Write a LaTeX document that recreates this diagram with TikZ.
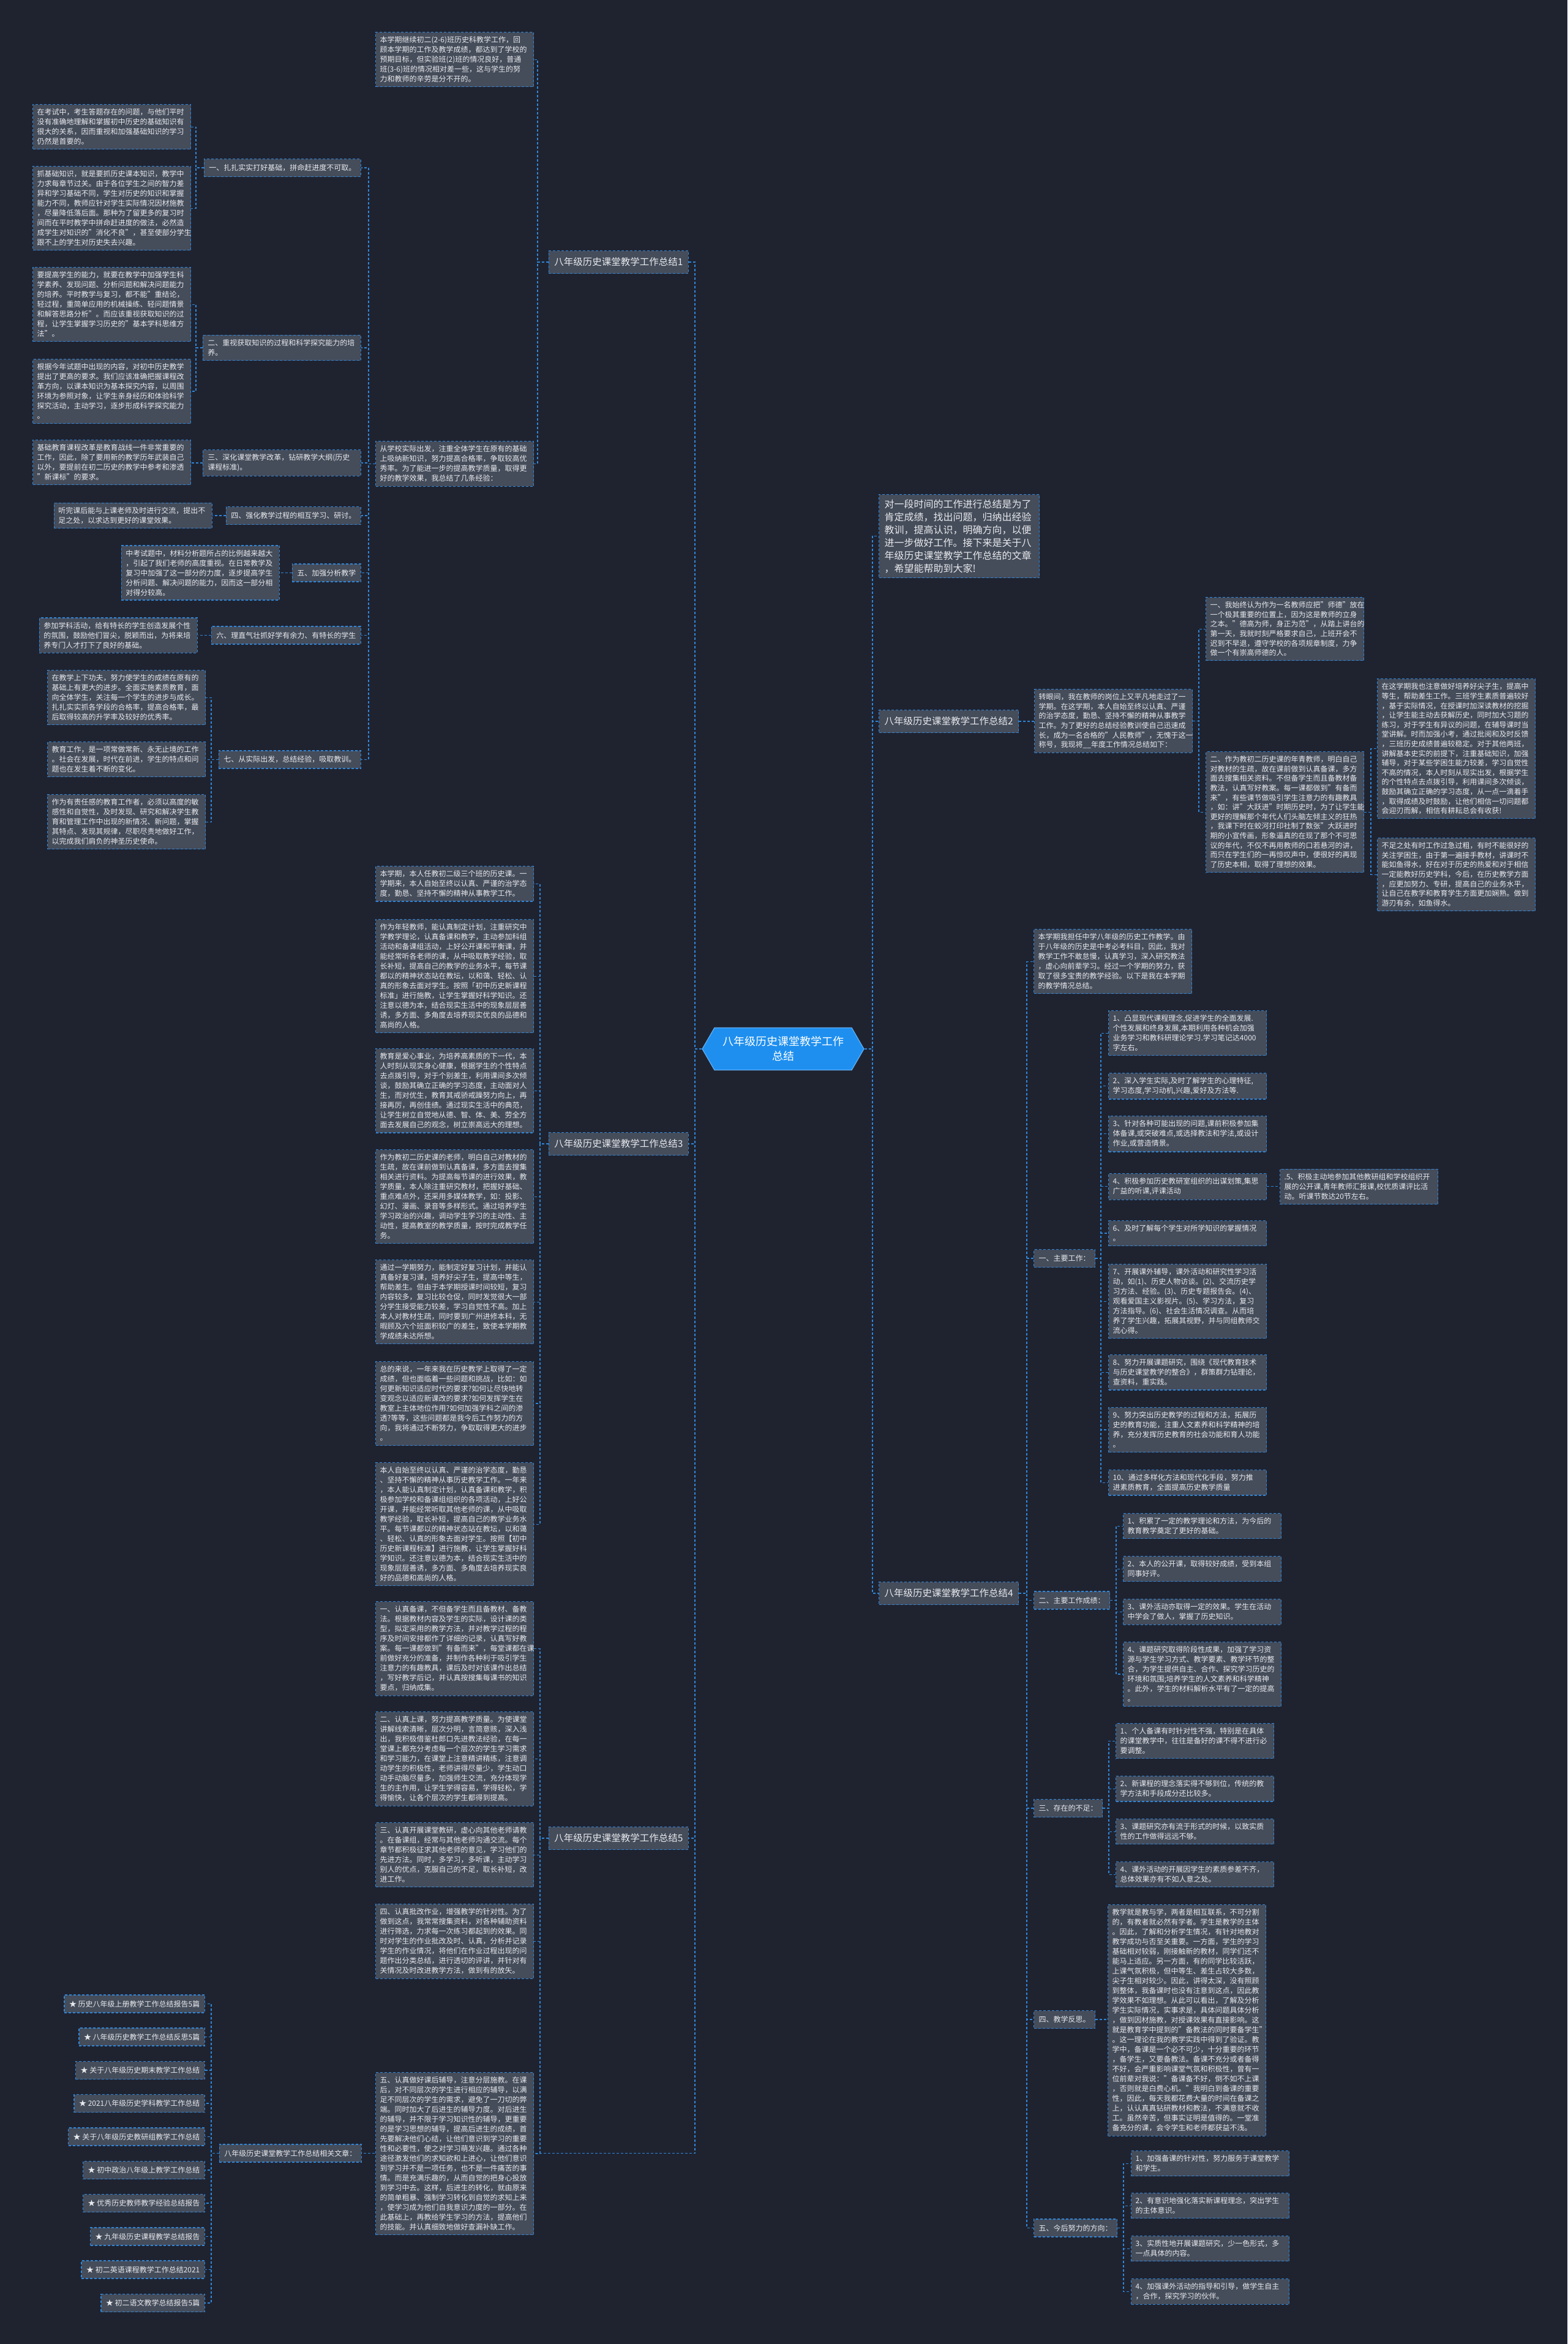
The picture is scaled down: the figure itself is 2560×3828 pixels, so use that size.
\documentclass[tikz,border=0pt]{standalone}
\usepackage{fontspec}
\setmainfont{Noto Sans CJK SC}
\usetikzlibrary{shapes.symbols}
\definecolor{bgc}{HTML}{1F2330}
\definecolor{bf}{HTML}{454C5A}
\definecolor{lk}{HTML}{2F86D8}
\definecolor{tx}{HTML}{E8EAED}
\definecolor{rootc}{HTML}{1E8FEF}
\pgfdeclarelayer{back}
\pgfsetlayers{back,main}
\begin{document}
\begin{tikzpicture}[x=1pt,y=-1pt,
  box/.style={draw=lk, dash pattern=on 4pt off 3pt, line width=1.2pt, fill=bf, text=tx, font=\fontsize{12pt}{16pt}\selectfont, inner xsep=7pt, inner ysep=7pt},
  para/.style={box, text width=244pt, align=left, anchor=north west},
  lbl/.style={box, minimum height=29pt, inner xsep=8pt},
  blabel/.style={box, font=\fontsize{15.5pt}{19pt}\selectfont, minimum height=37pt, inner xsep=9pt},
  conn/.style={draw=lk, dash pattern=on 4pt off 3pt, line width=1.2pt},
  rootbox/.style={signal, signal to=west and east, signal pointer angle=120, fill=rootc, draw=rootc!70!white, line width=1.2pt, text=white, font=\fontsize{18pt}{24pt}\selectfont, align=center, minimum width=264pt, minimum height=69pt, inner xsep=4pt}
]
\useasboundingbox (0,0) rectangle (2560,3828);

% ---------- root ----------
\node[rootbox] (root) at (1279,1713) {八年级历史课堂教学工作\\总结};

% ---------- branch labels ----------
\node[blabel, anchor=east] (b1) at (1125,428) {八年级历史课堂教学工作总结1};
\node[blabel, anchor=east] (b3) at (1125,1868) {八年级历史课堂教学工作总结3};
\node[blabel, anchor=east] (b5) at (1125,3002) {八年级历史课堂教学工作总结5};
\node[lbl, anchor=east] (rel) at (591,3516.5) {八年级历史课堂教学工作总结相关文章：};
\node[blabel, anchor=west] (b2) at (1435,1178) {八年级历史课堂教学工作总结2};
\node[blabel, anchor=west] (b4) at (1435,2602) {八年级历史课堂教学工作总结4};

% ---------- branch 1 ----------
\node[para] (n0) at (613,52) {本学期继续初二(2-6)班历史科教学工作，回\\顾本学期的工作及教学成绩，都达到了学校的\\预期目标，但实验班(2)班的情况良好，普通\\班(3-6)班的情况相对差一些，这与学生的努\\力和教师的辛劳是分不开的。};
\node[para] (n1) at (613,720) {从学校实际出发，注重全体学生在原有的基础\\上吸纳新知识，努力提高合格率，争取较高优\\秀率。为了能进一步的提高教学质量，取得更\\好的教学效果，我总结了几条经验：};

\node[lbl, anchor=east] (s1) at (590,274) {一、扎扎实实打好基础，拼命赶进度不可取。};
\node[lbl, anchor=east, text width=242pt, align=left] (s2) at (590,568) {二、重视获取知识的过程和科学探究能力的培\\养。};
\node[lbl, anchor=east, text width=242pt, align=left] (s3) at (590,756) {三、深化课堂教学改革，钻研教学大纲(历史\\课程标准)。};
\node[lbl, anchor=east] (s4) at (590,842) {四、强化教学过程的相互学习、研讨。};
\node[lbl, anchor=east] (s5) at (590,935.5) {五、加强分析教学};
\node[lbl, anchor=east] (s6) at (590,1037.5) {六、理直气壮抓好学有余力、有特长的学生};
\node[lbl, anchor=east] (s7) at (590,1240.5) {七、从实际出发，总结经验，吸取教训。};

\node[para] (l1) at (53,170) {在考试中，考生答题存在的问题，与他们平时\\没有准确地理解和掌握初中历史的基础知识有\\很大的关系，因而重视和加强基础知识的学习\\仍然是首要的。};
\node[para] (l2) at (53,271) {抓基础知识，就是要抓历史课本知识，教学中\\力求每章节过关。由于各位学生之间的智力差\\异和学习基础不同，学生对历史的知识和掌握\\能力不同，教师应针对学生实际情况因材施教\\，尽量降低落后面。那种为了留更多的复习时\\间而在平时教学中拼命赶进度的做法，必然造\\成学生对知识的"消化不良"，甚至使部分学生\\跟不上的学生对历史失去兴趣。};
\node[para] (l3) at (53,436) {要提高学生的能力，就要在教学中加强学生科\\学素养、发现问题、分析问题和解决问题能力\\的培养。平时教学与复习，都不能"重结论，\\轻过程，重简单应用的机械操练、轻问题情景\\和解答思路分析"。而应该重视获取知识的过\\程，让学生掌握学习历史的"基本学科思维方\\法"。};
\node[para] (l4) at (53,586) {根据今年试题中出现的内容，对初中历史教学\\提出了更高的要求。我们应该准确把握课程改\\革方向，以课本知识为基本探究内容，以周围\\环境为参照对象，让学生亲身经历和体验科学\\探究活动，主动学习，逐步形成科学探究能力\\。};
\node[para] (l5) at (53,718) {基础教育课程改革是教育战线一件非常重要的\\工作，因此，除了要用新的教学历年武装自己\\以外，要提前在初二历史的教学中参考和渗透\\"新课标"的要求。};
\node[para, anchor=east] (l6) at (347,842) {听完课后能与上课老师及时进行交流，提出不\\足之处，以求达到更好的课堂效果。};
\node[para, anchor=east] (l7) at (457,935.5) {中考试题中，材料分析题所占的比例越来越大\\，引起了我们老师的高度重视。在日常教学及\\复习中加强了这一部分的力度，逐步提高学生\\分析问题、解决问题的能力，因而这一部分相\\对得分较高。};
\node[para, anchor=east] (l8) at (323,1037.5) {参加学科活动，给有特长的学生创造发展个性\\的氛围，鼓励他们冒尖，脱颖而出，为将来培\\养专门人才打下了良好的基础。};
\node[para] (l9) at (77,1094) {在教学上下功夫，努力使学生的成绩在原有的\\基础上有更大的进步。全面实施素质教育，面\\向全体学生，关注每一个学生的进步与成长。\\扎扎实实抓各学段的合格率，提高合格率，最\\后取得较高的升学率及较好的优秀率。};
\node[para] (l10) at (77,1211) {教育工作，是一项常做常新、永无止境的工作\\。社会在发展，时代在前进，学生的特点和问\\题也在发生着不断的变化。};
\node[para] (l11) at (77,1297) {作为有责任感的教育工作者，必须以高度的敏\\感性和自觉性，及时发现、研究和解决学生教\\育和管理工作中出现的新情况、新问题，掌握\\其特点、发现其规律，尽职尽责地做好工作，\\以完成我们肩负的神圣历史使命。};

% ---------- branch 3 ----------
\node[para] (t1) at (613,1414) {本学期，本人任教初二级三个班的历史课。一\\学期来，本人自始至终以认真、严谨的治学态\\度，勤恳、坚持不懈的精神从事教学工作。};
\node[para] (t2) at (613,1501) {作为年轻教师，能认真制定计划，注重研究中\\学教学理论，认真备课和教学，主动参加科组\\活动和备课组活动，上好公开课和平衡课，并\\能经常听各老师的课，从中吸取教学经验，取\\长补短，提高自己的教学的业务水平，每节课\\都以的精神状态站在教坛，以和蔼、轻松、认\\真的形象去面对学生。按照「初中历史新课程\\标准」进行施教，让学生掌握好科学知识。还\\注意以德为本，结合现实生活中的现象层层善\\诱，多方面、多角度去培养现实优良的品德和\\高尚的人格。};
\node[para] (t3) at (613,1712) {教育是爱心事业，为培养高素质的下一代，本\\人时刻从现实身心健康，根据学生的个性特点\\去点拨引导，对于个别差生，利用课间多次倾\\谈，鼓励其确立正确的学习态度，主动面对人\\生，而对优生，教育其戒骄戒躁努力向上，再\\接再厉，再创佳绩。通过现实生活中的典范，\\让学生树立自觉地从德、智、体、美、劳全方\\面去发展自己的观念，树立崇高远大的理想。};
\node[para] (t4) at (613,1877) {作为教初二历史课的老师，明白自己对教材的\\生疏，故在课前做到认真备课，多方面去搜集\\相关进行资料。为提高每节课的进行效果，教\\学质量，本人除注重研究教材，把握好基础、\\重点难点外，还采用多媒体教学，如：投影、\\幻灯、漫画、录音等多样形式。通过培养学生\\学习政治的兴趣，调动学生学习的主动性、主\\动性，提高教室的教学质量，按时完成教学任\\务。};
\node[para] (t5) at (613,2057) {通过一学期努力，能制定好复习计划，并能认\\真备好复习课，培养好尖子生，提高中等生，\\帮助差生。但由于本学期授课时间较短，复习\\内容较多，复习比较仓促，同时发觉很大一部\\分学生接受能力较差，学习自觉性不高。加上\\本人对教材生疏，同时要到广州进修本科，无\\暇顾及六个班面积较广的差生，致使本学期教\\学成绩未达所想。};
\node[para] (t6) at (613,2223) {总的来说，一年来我在历史教学上取得了一定\\成绩，但也面临着一些问题和挑战，比如：如\\何更新知识适应时代的要求?如何让尽快地转\\变观念以适应新课改的要求?如何发挥学生在\\教室上主体地位作用?如何加强学科之间的渗\\透?等等，这些问题都是我今后工作努力的方\\向，我将通过不断努力，争取取得更大的进步\\。};
\node[para] (t7) at (613,2388) {本人自始至终以认真、严谨的治学态度，勤恳\\、坚持不懈的精神从事历史教学工作。一年来\\，本人能认真制定计划，认真备课和教学，积\\极参加学校和备课组组织的各项活动，上好公\\开课，并能经常听取其他老师的课，从中吸取\\教学经验，取长补短，提高自己的教学业务水\\平。每节课都以的精神状态站在教坛，以和蔼\\、轻松、认真的形象去面对学生。按照【初中\\历史新课程标准】进行施教，让学生掌握好科\\学知识。还注意以德为本，结合现实生活中的\\现象层层善诱，多方面、多角度去培养现实良\\好的品德和高尚的人格。};

% ---------- branch 5 ----------
\node[para] (u1) at (613,2615) {一、认真备课，不但备学生而且备教材、备教\\法。根据教材内容及学生的实际，设计课的类\\型，拟定采用的教学方法，并对教学过程的程\\序及时间安排都作了详细的记录，认真写好教\\案。每一课都做到"有备而来"，每堂课都在课\\前做好充分的准备，并制作各种利于吸引学生\\注意力的有趣教具，课后及时对该课作出总结\\，写好教学后记，并认真按搜集每课书的知识\\要点，归纳成集。};
\node[para] (u2) at (613,2795) {二、认真上课，努力提高教学质量。为使课堂\\讲解线索清晰，层次分明，言简意赅，深入浅\\出，我积极借鉴杜郎口先进教法经验，在每一\\堂课上都充分考虑每一个层次的学生学习需求\\和学习能力，在课堂上注意精讲精练，注意调\\动学生的积极性，老师讲得尽量少，学生动口\\动手动脑尽量多，加强师生交流，充分体现学\\生的主作用，让学生学得容易，学得轻松，学\\得愉快，让各个层次的学生都得到提高。};
\node[para] (u3) at (613,2976) {三、认真开展课堂教研，虚心向其他老师请教\\。在备课组，经常与其他老师沟通交流。每个\\章节都积极征求其他老师的意见，学习他们的\\先进方法。同时，多学习，多听课，主动学习\\别人的优点，克服自己的不足，取长补短，改\\进工作。};
\node[para] (u4) at (613,3109) {四、认真批改作业，增强教学的针对性。为了\\做到这点，我常常搜集资料，对各种辅助资料\\进行筛选，力求每一次练习都起到的效果。同\\时对学生的作业批改及时、认真，分析并记录\\学生的作业情况，将他们在作业过程出现的问\\题作出分类总结，进行透切的评讲，并针对有\\关情况及时改进教学方法，做到有的放矢。};
\node[para] (u5) at (613,3384) {五、认真做好课后辅导，注意分层施教。在课\\后，对不同层次的学生进行相应的辅导，以满\\足不同层次的学生的需求，避免了一刀切的弊\\端。同时加大了后进生的辅导力度。对后进生\\的辅导，并不限于学习知识性的辅导，更重要\\的是学习思想的辅导，提高后进生的成绩，首\\先要解决他们心结，让他们意识到学习的重要\\性和必要性，使之对学习萌发兴趣。通过各种\\途径激发他们的求知欲和上进心，让他们意识\\到学习并不是一项任务，也不是一件痛苦的事\\情。而是充满乐趣的，从而自觉的把身心投放\\到学习中去。这样，后进生的转化，就由原来\\的简单粗暴、强制学习转化到自觉的求知上来\\，使学习成为他们自我意识力度的一部分。在\\此基础上，再教给学生学习的方法，提高他们\\的技能。并认真细致地做好查漏补缺工作。};

% ---------- related articles ----------
\node[lbl, anchor=east] (r1) at (335,3272.5) {★ 历史八年级上册教学工作总结报告5篇};
\node[lbl, anchor=east] (r2) at (335,3326.5) {★ 八年级历史教学工作总结反思5篇};
\node[lbl, anchor=east] (r3) at (335,3381) {★ 关于八年级历史期末教学工作总结};
\node[lbl, anchor=east] (r4) at (335,3435) {★ 2021八年级历史学科教学工作总结};
\node[lbl, anchor=east] (r5) at (335,3489.5) {★ 关于八年级历史教研组教学工作总结};
\node[lbl, anchor=east] (r6) at (335,3544) {★ 初中政治八年级上教学工作总结};
\node[lbl, anchor=east] (r7) at (335,3598) {★ 优秀历史教师教学经验总结报告};
\node[lbl, anchor=east] (r8) at (335,3652.5) {★ 九年级历史课程教学总结报告};
\node[lbl, anchor=east] (r9) at (335,3706.5) {★ 初二英语课程教学工作总结2021};
\node[lbl, anchor=east] (r10) at (335,3761) {★ 初二语文教学总结报告5篇};

% ---------- right: intro + branch 2 ----------
\node[para, font=\fontsize{16pt}{21pt}\selectfont, inner xsep=9pt, inner ysep=8pt] (intro) at (1435,807) {对一段时间的工作进行总结是为了\\肯定成绩，找出问题，归纳出经验\\教训，提高认识，明确方向，以便\\进一步做好工作。接下来是关于八\\年级历史课堂教学工作总结的文章\\，希望能帮助到大家!};
\node[para, font=\fontsize{12pt}{15.6pt}\selectfont] (zy) at (1689,1125) {转眼间，我在教师的岗位上又平凡地走过了一\\学期。在这学期，本人自始至终以认真、严谨\\的治学态度，勤恳、坚持不懈的精神从事教学\\工作。为了更好的总结经验教训使自己迅速成\\长，成为一名合格的"人民教师"，无愧于这一\\称号，我现将\_\_年度工作情况总结如下：};
\node[para, font=\fontsize{12pt}{15.6pt}\selectfont] (q1) at (1969,975) {一、我始终认为作为一名教师应把"师德"放在\\一个极其重要的位置上，因为这是教师的立身\\之本。"德高为师，身正为范"，从踏上讲台的\\第一天，我就时刻严格要求自己，上班开会不\\迟到不早退，遵守学校的各项规章制度，力争\\做一个有崇高师德的人。};
\node[para, font=\fontsize{12pt}{15.6pt}\selectfont] (q2) at (1969,1227) {二、作为教初二历史课的年青教师，明白自己\\对教材的生疏，故在课前做到认真备课，多方\\面去搜集相关资料。不但备学生而且备教材备\\教法，认真写好教案。每一课都做到"有备而\\来"，有些课节做吸引学生注意力的有趣教具\\，如：讲"大跃进"时期历史时，为了让学生能\\更好的理解那个年代人们头脑左倾主义的狂热\\，我课下时在蛟河打印社制了数张"大跃进时\\期的小宣传画，形象逼真的在现了那个不可思\\议的年代，不仅不再用教师的口若悬河的讲，\\而只在学生们的一再惊叹声中，便很好的再现\\了历史本相，取得了理想的效果。};
\node[para, font=\fontsize{12pt}{15.6pt}\selectfont] (q3) at (2249,1108) {在这学期我也注意做好培养好尖子生，提高中\\等生，帮助差生工作。三班学生素质普遍较好\\，基于实际情况，在授课时加深读教材的挖掘\\，让学生能主动去获解历史，同时加大习题的\\练习，对于学生有异议的问题，在辅导课时当\\堂讲解。时而加强小考，通过批阅和及时反馈\\，三班历史成绩普遍较稳定。对于其他两班，\\讲解基本史实的前提下，注重基础知识，加强\\辅导，对于某些学困生能力较差，学习自觉性\\不高的情况，本人时刻从现实出发，根据学生\\的个性特点去点拨引导，利用课间多次倾谈，\\鼓励其确立正确的学习态度，从一点一滴着手\\，取得成绩及时鼓励，让他们相信一切问题都\\会迎刃而解，相信有耕耘总会有收获!};
\node[para, font=\fontsize{12pt}{15.6pt}\selectfont] (q4) at (2249,1368) {不足之处有时工作过急过粗，有时不能很好的\\关注学困生，由于第一遍接手教材，讲课时不\\能如鱼得水，好在对于历史的热爱和对于相信\\一定能教好历史学科，今后，在历史教学方面\\，应更加努力、专研，提高自己的业务水平，\\让自己在教学和教育学生方面更加娴熟。做到\\游刃有余，如鱼得水。};

% ---------- branch 4 ----------
\node[para] (i4) at (1688,1517) {本学期我担任中学八年级的历史工作教学。由\\于八年级的历史是中考必考科目，因此，我对\\教学工作不敢怠慢，认真学习，深入研究教法\\，虚心向前辈学习。经过一个学期的努力，获\\取了很多宝贵的教学经验。以下是我在本学期\\的教学情况总结。};
\node[lbl, anchor=west] (m1) at (1688,2055) {一、主要工作：};
\node[lbl, anchor=west] (m2) at (1688,2613.5) {二、主要工作成绩：};
\node[lbl, anchor=west] (m3) at (1688,2953) {三、存在的不足：};
\node[lbl, anchor=west] (m4) at (1688,3298) {四、教学反思。};
\node[lbl, anchor=west] (m5) at (1688,3638.5) {五、今后努力的方向：};

\node[para] (it1) at (1810,1650) {1、凸显现代课程理念,促进学生的全面发展.\\个性发展和终身发展,本期利用各种机会加强\\业务学习和教科研理论学习.学习笔记达4000\\字左右。};
\node[para] (it2) at (1810,1752) {2、深入学生实际,及时了解学生的心理特征,\\学习态度,学习动机,兴趣,爱好及方法等.};
\node[para] (it3) at (1810,1822) {3、针对各种可能出现的问题,课前积极参加集\\体备课,或突破难点,或选择教法和学法,或设计\\作业,或营造情景。};
\node[para] (it4) at (1810,1916) {4、积极参加历史教研室组织的出谋划策,集思\\广益的听课,评课活动};
\node[para, anchor=west] (it5) at (2090,1938) {.5、积极主动地参加其他教研组和学校组织开\\展的公开课,青年教师汇报课,校优质课评比活\\动。听课节数达20节左右。};
\node[para] (it6) at (1810,1993) {6、及时了解每个学生对所学知识的掌握情况\\。};
\node[para] (it7) at (1810,2064) {7、开展课外辅导，课外活动和研究性学习活\\动，如(1)、历史人物访谈。(2)、交流历史学\\习方法、经验。(3)、历史专题报告会。(4)、\\观看爱国主义影视片。(5)、学习方法，复习\\方法指导。(6)、社会生活情况调查。从而培\\养了学生兴趣，拓展其视野，并与同组教师交\\流心得。};
\node[para] (it8) at (1810,2212) {8、努力开展课题研究，围绕《现代教育技术\\与历史课堂教学的整合》，群策群力钻理论，\\查资料，重实践。};
\node[para] (it9) at (1810,2298) {9、努力突出历史教学的过程和方法，拓展历\\史的教育功能，注重人文素养和科学精神的培\\养，充分发挥历史教育的社会功能和育人功能\\。};
\node[para] (it10) at (1810,2400) {10、通过多样化方法和现代化手段，努力推\\进素质教育，全面提高历史教学质量};

\node[para] (a1) at (1834,2471) {1、积累了一定的教学理论和方法，为今后的\\教育教学奠定了更好的基础。};
\node[para] (a2) at (1834,2541) {2、本人的公开课，取得较好成绩，受到本组\\同事好评。};
\node[para] (a3) at (1834,2611) {3、课外活动亦取得一定的效果。学生在活动\\中学会了做人，掌握了历史知识。};
\node[para] (a4) at (1834,2681) {4、课题研究取得阶段性成果，加强了学习资\\源与学生学习方式、教学要素、教学环节的整\\合，为学生提供自主、合作、探究学习历史的\\环境和氛围;培养学生的人文素养和科学精神\\。此外，学生的材料解析水平有了一定的提高\\。};

\node[para] (e1) at (1822,2814) {1、个人备课有时针对性不强，特别是在具体\\的课堂教学中，往往是备好的课不得不进行必\\要调整。};
\node[para] (e2) at (1822,2900) {2、新课程的理念落实得不够到位，传统的教\\学方法和手段成分还比较多。};
\node[para] (e3) at (1822,2970) {3、课题研究亦有流于形式的时候，以致实质\\性的工作做得远远不够。};
\node[para] (e4) at (1822,3040) {4、课外活动的开展因学生的素质参差不齐，\\总体效果亦有不如人意之处。};

\node[para] (fx) at (1809,3110) {教学就是教与学，两者是相互联系，不可分割\\的，有教者就必然有学者。学生是教学的主体\\。因此，了解和分析学生情况，有针对地教对\\教学成功与否至关重要。一方面，学生的学习\\基础相对较弱，刚接触新的教材，同学们还不\\能马上适应。另一方面，有的同学比较活跃，\\上课气氛积极，但中等生、差生占较大多数，\\尖子生相对较少。因此，讲得太深，没有照顾\\到整体，我备课时也没有注意到这点，因此教\\学效果不如理想。从此可以看出，了解及分析\\学生实际情况，实事求是，具体问题具体分析\\，做到因材施教，对授课效果有直接影响。这\\就是教育学中提到的"备教法的同时要备学生"\\。这一理论在我的教学实践中得到了验证。教\\学中，备课是一个必不可少，十分重要的环节\\，备学生，又要备教法。备课不充分或者备得\\不好，会严重影响课堂气氛和积极性，曾有一\\位前辈对我说："备课备不好，倒不如不上课\\，否则就是白费心机。"我明白到备课的重要\\性，因此，每天我都花费大量的时间在备课之\\上，认认真真钻研教材和教法，不满意就不收\\工。虽然辛苦，但事实证明是值得的。一堂准\\备充分的课，会令学生和老师都获益不浅。};

\node[para] (f1) at (1847,3512) {1、加强备课的针对性，努力服务于课堂教学\\和学生。};
\node[para] (f2) at (1847,3581) {2、有意识地强化落实新课程理念，突出学生\\的主体意识。};
\node[para] (f3) at (1847,3651) {3、实质性地开展课题研究，少一色形式，多\\一点具体的内容。};
\node[para] (f4) at (1847,3721) {4、加强课外活动的指导和引导，做学生自主\\，合作，探究学习的伙伴。};

% ---------- vertical guide coordinates ----------
\coordinate (vL) at (1135,0);
\coordinate (vR) at (1425,0);
\coordinate (v878) at (878,0);
\coordinate (v602) at (602,0);
\coordinate (v320) at (320,0);
\coordinate (v345) at (345,0);
\coordinate (v882) at (882,0);
\coordinate (v1958) at (1958,0);
\coordinate (v2239) at (2239,0);
\coordinate (v1677) at (1677,0);
\coordinate (v1798) at (1798,0);
\coordinate (v1823) at (1823,0);
\coordinate (v1811) at (1811,0);
\coordinate (v1835) at (1835,0);

% ---------- connectors (behind) ----------
\begin{pgfonlayer}{back}
\fill[bgc] (0,0) rectangle (2560,3828);
\foreach \c in {b1,b3,b5,rel} \draw[conn] (root.west) -- (root.west -| vL) |- (\c.east);
\foreach \c in {intro,b2,b4} \draw[conn] (root.east) -- (root.east -| vR) |- (\c.west);
\foreach \c in {n0,n1} \draw[conn] (b1.west) -- (b1.west -| v878) |- (\c.east);
\foreach \c in {s1,s2,s3,s4,s5,s6,s7} \draw[conn] (n1.west) -- (n1.west -| v602) |- (\c.east);
\foreach \c in {l1,l2} \draw[conn] (s1.west) -- (s1.west -| v320) |- (\c.east);
\foreach \c in {l3,l4} \draw[conn] (s2.west) -- (s2.west -| v320) |- (\c.east);
\draw[conn] (s3.west) -- (s3.west -| l5.east);
\draw[conn] (s4.west) -- (s4.west -| l6.east);
\draw[conn] (s5.west) -- (s5.west -| l7.east);
\draw[conn] (s6.west) -- (s6.west -| l8.east);
\foreach \c in {l9,l10,l11} \draw[conn] (s7.west) -- (s7.west -| v345) |- (\c.east);
\foreach \c in {t1,t2,t3,t4,t5,t6,t7} \draw[conn] (b3.west) -- (b3.west -| v882) |- (\c.east);
\foreach \c in {u1,u2,u3,u4,u5} \draw[conn] (b5.west) -- (b5.west -| v882) |- (\c.east);
\foreach \c in {r1,r2,r3,r4,r5,r6,r7,r8,r9,r10} \draw[conn] (rel.west) -- (rel.west -| v345) |- (\c.east);
\draw[conn] (b2.east) -- (b2.east -| zy.west);
\foreach \c in {q1,q2} \draw[conn] (zy.east) -- (zy.east -| v1958) |- (\c.west);
\foreach \c in {q3,q4} \draw[conn] (q2.east) -- (q2.east -| v2239) |- (\c.west);
\foreach \c in {i4,m1,m2,m3,m4,m5} \draw[conn] (b4.east) -- (b4.east -| v1677) |- (\c.west);
\foreach \c in {it1,it2,it3,it4,it6,it7,it8,it9,it10} \draw[conn] (m1.east) -- (m1.east -| v1798) |- (\c.west);
\draw[conn] (it4.east) -- (it4.east -| it5.west);
\foreach \c in {a1,a2,a3,a4} \draw[conn] (m2.east) -- (m2.east -| v1823) |- (\c.west);
\foreach \c in {e1,e2,e3,e4} \draw[conn] (m3.east) -- (m3.east -| v1811) |- (\c.west);
\draw[conn] (m4.east) -- (m4.east -| fx.west);
\foreach \c in {f1,f2,f3,f4} \draw[conn] (m5.east) -- (m5.east -| v1835) |- (\c.west);
\end{pgfonlayer}
\end{tikzpicture}
\end{document}
